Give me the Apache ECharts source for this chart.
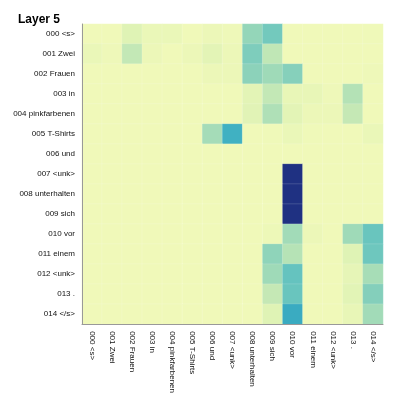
<!DOCTYPE html>
<html>
<head>
<meta charset="utf-8">
<script src="https://cdn.jsdelivr.net/npm/echarts@6/dist/echarts.min.js"></script>
<style>
  html, body { margin: 0; padding: 0; background: #fff; }
  #chart { width: 400px; height: 396px; }
</style>
</head>
<body>
<div id="chart"></div>
<script type="text/javascript">
// tokens (same for source and target)
var tokens = ['000 <s>', '001 Zwei', '002 Frauen', '003 in', '004 pinkfarbenen', '005 T-Shirts', '006 und',
  '007 <unk>', '008 unterhalten', '009 sich', '010 vor', '011 einem', '012 <unk>', '013 .', '014 </s>'];

// attention rows (position on the colour scale), one array per row token
var row00 = [0.10, 0.10, 0.18, 0.13, 0.13, 0.10, 0.12, 0.11, 0.34, 0.40, 0.10, 0.10, 0.10, 0.10, 0.105];
var row01 = [0.13, 0.11, 0.25, 0.12, 0.10, 0.12, 0.16, 0.12, 0.38, 0.255, 0.10, 0.10, 0.10, 0.10, 0.10];
var row02 = [0.10, 0.10, 0.10, 0.10, 0.10, 0.10, 0.12, 0.12, 0.355, 0.32, 0.365, 0.10, 0.10, 0.10, 0.11];
var row03 = [0.10, 0.10, 0.10, 0.10, 0.10, 0.10, 0.10, 0.10, 0.16, 0.25, 0.14, 0.14, 0.11, 0.28, 0.10];
var row04 = [0.10, 0.10, 0.10, 0.10, 0.10, 0.10, 0.10, 0.10, 0.17, 0.29, 0.16, 0.12, 0.12, 0.245, 0.10];
var row05 = [0.10, 0.10, 0.10, 0.10, 0.10, 0.10, 0.31, 0.51, 0.10, 0.105, 0.13, 0.105, 0.10, 0.10, 0.13];
var row06 = [0.10, 0.10, 0.10, 0.10, 0.10, 0.10, 0.10, 0.10, 0.10, 0.10, 0.10, 0.10, 0.10, 0.10, 0.10];
var row07 = [0.10, 0.10, 0.10, 0.10, 0.10, 0.10, 0.10, 0.10, 0.10, 0.10, 0.90, 0.10, 0.10, 0.10, 0.10];
var row08 = [0.10, 0.10, 0.10, 0.10, 0.10, 0.10, 0.10, 0.10, 0.10, 0.10, 0.90, 0.10, 0.10, 0.10, 0.10];
var row09 = [0.10, 0.10, 0.10, 0.10, 0.10, 0.10, 0.10, 0.10, 0.10, 0.10, 0.90, 0.10, 0.10, 0.10, 0.10];
var row10 = [0.10, 0.10, 0.10, 0.10, 0.10, 0.10, 0.10, 0.10, 0.10, 0.115, 0.315, 0.12, 0.10, 0.32, 0.42];
var row11 = [0.10, 0.10, 0.10, 0.10, 0.10, 0.10, 0.10, 0.10, 0.10, 0.35, 0.275, 0.10, 0.10, 0.18, 0.41];
var row12 = [0.10, 0.10, 0.10, 0.10, 0.10, 0.10, 0.10, 0.10, 0.10, 0.32, 0.43, 0.10, 0.10, 0.15, 0.305];
var row13 = [0.10, 0.10, 0.10, 0.10, 0.10, 0.10, 0.10, 0.10, 0.10, 0.245, 0.42, 0.10, 0.10, 0.165, 0.37];
var row14 = [0.10, 0.10, 0.10, 0.10, 0.10, 0.10, 0.10, 0.10, 0.10, 0.18, 0.53, 0.10, 0.10, 0.14, 0.315];

var rows = [row00, row01, row02, row03, row04, row05, row06, row07, row08, row09, row10, row11, row12, row13, row14];

// YlGnBu
var ylGnBu = ['#ffffd9', '#f0f9b9', '#dbf1b4', '#aadeb7', '#73c9bd', '#43b4c2', '#2497c0', '#2074b2', '#244f9e', '#1f3182', '#081d58'];

var data = [];
for (var r = 0; r < rows.length; r++) {
  for (var c = 0; c < rows[r].length; c++) {
    data.push([c, r, rows[r][c]]);
  }
}

var chart = echarts.init(document.getElementById('chart'));
var labelFont = { fontFamily: 'Liberation Sans', fontSize: 8, color: '#111' };

chart.setOption({
  animation: false,
  title: {
    text: 'Layer 5',
    left: 13,
    top: 9,
    textStyle: { fontFamily: 'Liberation Sans', fontSize: 12, fontWeight: 'bold', color: '#000' }
  },
  grid: { left: 82, right: 17, top: 24, bottom: 70 },
  xAxis: {
    type: 'category',
    data: tokens,
    position: 'bottom',
    z: 5,
    axisLine: { lineStyle: { color: '#999' } },
    axisTick: { length: 5, lineStyle: { color: '#999' }, alignWithLabel: true },
    axisLabel: Object.assign({ rotate: -90, interval: 0, margin: 7 }, labelFont),
    splitLine: { show: false }
  },
  yAxis: {
    type: 'category',
    data: tokens,
    inverse: true,
    z: 5,
    axisLine: { lineStyle: { color: '#999' } },
    axisTick: { length: 5, lineStyle: { color: '#999' }, alignWithLabel: true },
    axisLabel: Object.assign({ interval: 0, margin: 7 }, labelFont),
    splitLine: { show: false }
  },
  visualMap: {
    show: false,
    min: 0,
    max: 1,
    dimension: 2,
    inRange: { color: ylGnBu }
  },
  series: [{
    type: 'heatmap',
    data: data,
    itemStyle: { borderColor: 'rgba(255,255,255,0.3)', borderWidth: 0.5 }
  }]
});
</script>
</body>
</html>
